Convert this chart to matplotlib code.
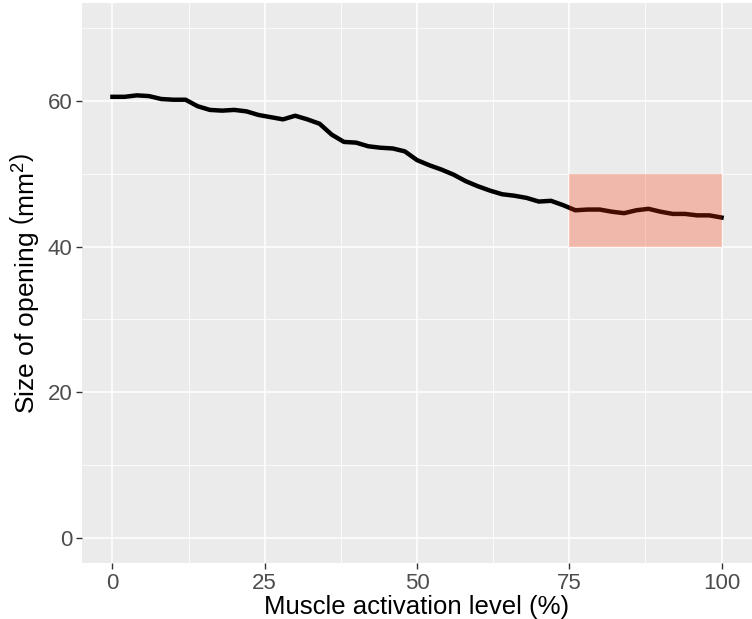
import matplotlib
matplotlib.use("Agg")
import matplotlib.pyplot as plt
from matplotlib.patches import Rectangle

plt.rcParams['font.family'] = ['Liberation Sans', 'DejaVu Sans']
plt.rcParams['mathtext.fontset'] = 'custom'
plt.rcParams['mathtext.rm'] = 'Liberation Sans'
plt.rcParams['mathtext.it'] = 'Liberation Sans:italic'

activation = [0, 2, 4, 6, 8, 10, 12, 14, 16, 18, 20, 22, 24, 26, 28, 30, 32, 34, 36, 38,
              40, 42, 44, 46, 48, 50, 52, 54, 56, 58, 60, 62, 64, 66, 68, 70, 72, 74, 76, 78,
              80, 82, 84, 86, 88, 90, 92, 94, 96, 98, 100]
opening = [60.6, 60.6, 60.8, 60.7, 60.3, 60.2, 60.2, 59.3, 58.8, 58.7, 58.8, 58.6, 58.1, 57.8,
           57.5, 58.0, 57.5, 56.9, 55.4, 54.4, 54.3, 53.8, 53.6, 53.5, 53.1, 51.9, 51.2, 50.6,
           49.9, 49.0, 48.3, 47.7, 47.2, 47.0, 46.7, 46.2, 46.3, 45.7, 45.0, 45.1, 45.1, 44.8,
           44.6, 45.0, 45.2, 44.8, 44.5, 44.5, 44.3, 44.3, 44.0]
region_x = [75, 100]
region_y = [40, 50]
x_ticks = [0, 25, 50, 75, 100]
y_ticks = [0, 20, 40, 60]

fig = plt.figure(figsize=(7.52, 6.19), dpi=100)
ax = fig.add_axes([82/752, 56/619, 670/752, 560/619])
ax.set_facecolor('#EBEBEB')
for s in ax.spines.values():
    s.set_visible(False)

ax.set_xlim(-5, 105)
ax.set_ylim(-3.5, 73.5)
ax.set_xticks(x_ticks)
ax.set_yticks(y_ticks)
ax.set_xticks([12.5, 37.5, 62.5, 87.5], minor=True)
ax.set_yticks([10, 30, 50, 70], minor=True)
ax.grid(which='major', color='white', linewidth=1.1)
ax.grid(which='minor', color='white', linewidth=0.55)
ax.set_axisbelow(True)
ax.tick_params(which='major', length=4, width=1, color='#333333', labelsize=16,
               labelcolor='#4D4D4D', pad=3)
ax.tick_params(which='minor', length=0)

ax.plot(activation, opening, color='black', linewidth=3.2, solid_joinstyle='round', zorder=3)
ax.add_patch(Rectangle((region_x[0], region_y[0]), region_x[1]-region_x[0],
                       region_y[1]-region_y[0], facecolor='#FF3000', alpha=0.27,
                       edgecolor='none', zorder=4))

ax.set_xlabel('Muscle activation level (%)', fontsize=18.5, color='black', labelpad=1)
ax.set_ylabel(r'Size of opening $\left(\mathrm{mm}^2\right)$', fontsize=19, color='black', labelpad=5)

fig.savefig('out.png', dpi=100)
